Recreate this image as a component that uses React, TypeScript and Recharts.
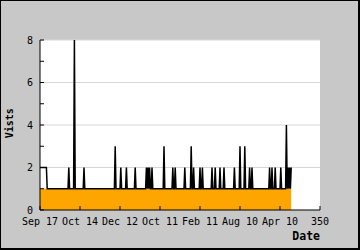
import React from 'react';
import { ComposedChart, Area, Line, XAxis, YAxis, ReferenceLine, CartesianGrid, Label } from 'recharts';

// x axis: numeric day index 0..350, labelled with the original's tick texts
const xTickValues = [0, 50, 100, 150, 200, 250, 300, 350];
const xTickLabels = ['Sep 17', 'Oct 14', 'Dec 12', 'Oct 11', 'Feb 11', 'Aug 10', 'Apr 10', '350'];

// y axis: minor ticks every 1, labels / grid on even values
const yTickValues = [0, 1, 2, 3, 4, 5, 6, 7, 8];
const yLabelValues = [0, 2, 4, 6, 8];
const gridValues = [2, 4, 6, 8];

const lastDay = 314;
const ordinaryVisits = 1;

// total visits (black line): 1 on ordinary days, higher on these days
const visitPeakDays = [
  0, 1, 2, 3, 4, 5, 6, 7, 8,
  36, 43, 55, 94, 101, 108, 119,
  133, 135, 137, 140, 155, 166, 169, 181, 189, 192,
  200, 203, 215, 219, 225, 230, 243, 250, 256, 262, 265,
  287, 290, 294, 301, 308, 310, 312, 314,
];
const visitPeakValues = [
  2, 2, 2, 2, 2, 2, 2, 2, 2,
  2, 8, 2, 3, 2, 2, 2,
  2, 2, 2, 2, 3, 2, 2, 2, 3, 2,
  2, 2, 2, 2, 2, 2, 2, 3, 3, 2, 2,
  2, 2, 2, 2, 4, 2, 2, 2,
];

// filled (orange) series: 1 on ordinary days, higher on these days
const fillPeakDays = [
  36, 43, 55, 101, 108, 119,
  140, 155, 166, 169, 181, 192,
  200, 203, 215, 219, 225, 230, 243, 250, 256, 262, 265,
  287, 290, 294, 301, 308,
];
const fillPeakValues = [
  2, 8, 2, 2, 2, 2,
  2, 3, 2, 2, 2, 2,
  2, 2, 2, 2, 2, 2, 2, 3, 3, 2, 2,
  2, 2, 2, 2, 4,
];

const data: { day: number; visits: number; filled: number }[] = [];
for (let d = 0; d <= lastDay; d++) {
  const i = visitPeakDays.indexOf(d);
  const j = fillPeakDays.indexOf(d);
  data.push({
    day: d,
    visits: i >= 0 ? visitPeakValues[i] : ordinaryVisits,
    filled: j >= 0 ? fillPeakValues[j] : ordinaryVisits,
  });
}

const FONT = 'DejaVu Sans Mono';

const DateLabel = (props: any) => {
  const vb = props.viewBox || {};
  return (
    <text
      x={vb.x + vb.width}
      y={vb.y + 30}
      textAnchor="end"
      fontFamily={FONT}
      fontWeight="bold"
      fontSize={11.5}
      fill="#000"
    >
      Date
    </text>
  );
};

const VisitsLabel = (props: any) => {
  const vb = props.viewBox || {};
  const x = vb.x + 12.3;
  const y = vb.y + vb.height / 2 - 1.7;
  return (
    <text
      x={x}
      y={y}
      transform={`rotate(-90, ${x}, ${y})`}
      textAnchor="middle"
      fontFamily={FONT}
      fontWeight="bold"
      fontSize={10}
      fill="#000"
    >
      Vists
    </text>
  );
};

export default function App() {
  return (
    <div
      style={{
        position: 'absolute',
        left: 0,
        top: 0,
        width: 360,
        height: 250,
        boxSizing: 'border-box',
        background: '#c8c8c8',
        borderTop: '1px solid #000',
        borderLeft: '1px solid #000',
        borderRight: '2px solid #000',
        borderBottom: '2px solid #000',
      }}
    >
      <ComposedChart
        width={357}
        height={247}
        data={data}
        margin={{ top: 39, right: 38, left: 0, bottom: 0 }}
      >
        <CartesianGrid horizontal={false} vertical={false} fill="#ffffff" />
        {gridValues.map((v) => (
          <ReferenceLine key={v} y={v} stroke="#d8d8d8" strokeWidth={1} />
        ))}
        <Area
          dataKey="filled"
          type="linear"
          fill="#ffa500"
          fillOpacity={1}
          stroke="none"
          dot={false}
          activeDot={false}
          isAnimationActive={false}
        />
        <Line
          dataKey="visits"
          type="linear"
          stroke="#000"
          strokeWidth={1.5}
          dot={false}
          activeDot={false}
          isAnimationActive={false}
        />
        <XAxis
          dataKey="day"
          type="number"
          domain={[0, 350]}
          ticks={xTickValues}
          interval={0}
          tickFormatter={(v: number) => xTickLabels[xTickValues.indexOf(v)] ?? String(v)}
          tickSize={-4}
          tickMargin={12}
          height={38}
          axisLine={{ stroke: '#000' }}
          tickLine={{ stroke: '#000' }}
          tick={{ fill: '#000', fontSize: 10, fontFamily: FONT }}
          allowDataOverflow
          label={<Label content={DateLabel} />}
        />
        <YAxis
          type="number"
          domain={[0, 8]}
          ticks={yTickValues}
          interval={0}
          tickFormatter={(v: number) => (yLabelValues.includes(v) ? String(v) : '')}
          tickSize={-4}
          tickMargin={11}
          width={39}
          axisLine={{ stroke: '#000' }}
          tickLine={{ stroke: '#000' }}
          tick={{ fill: '#000', fontSize: 10, fontFamily: FONT }}
          allowDataOverflow
          label={<Label content={VisitsLabel} />}
        />
      </ComposedChart>
    </div>
  );
}
